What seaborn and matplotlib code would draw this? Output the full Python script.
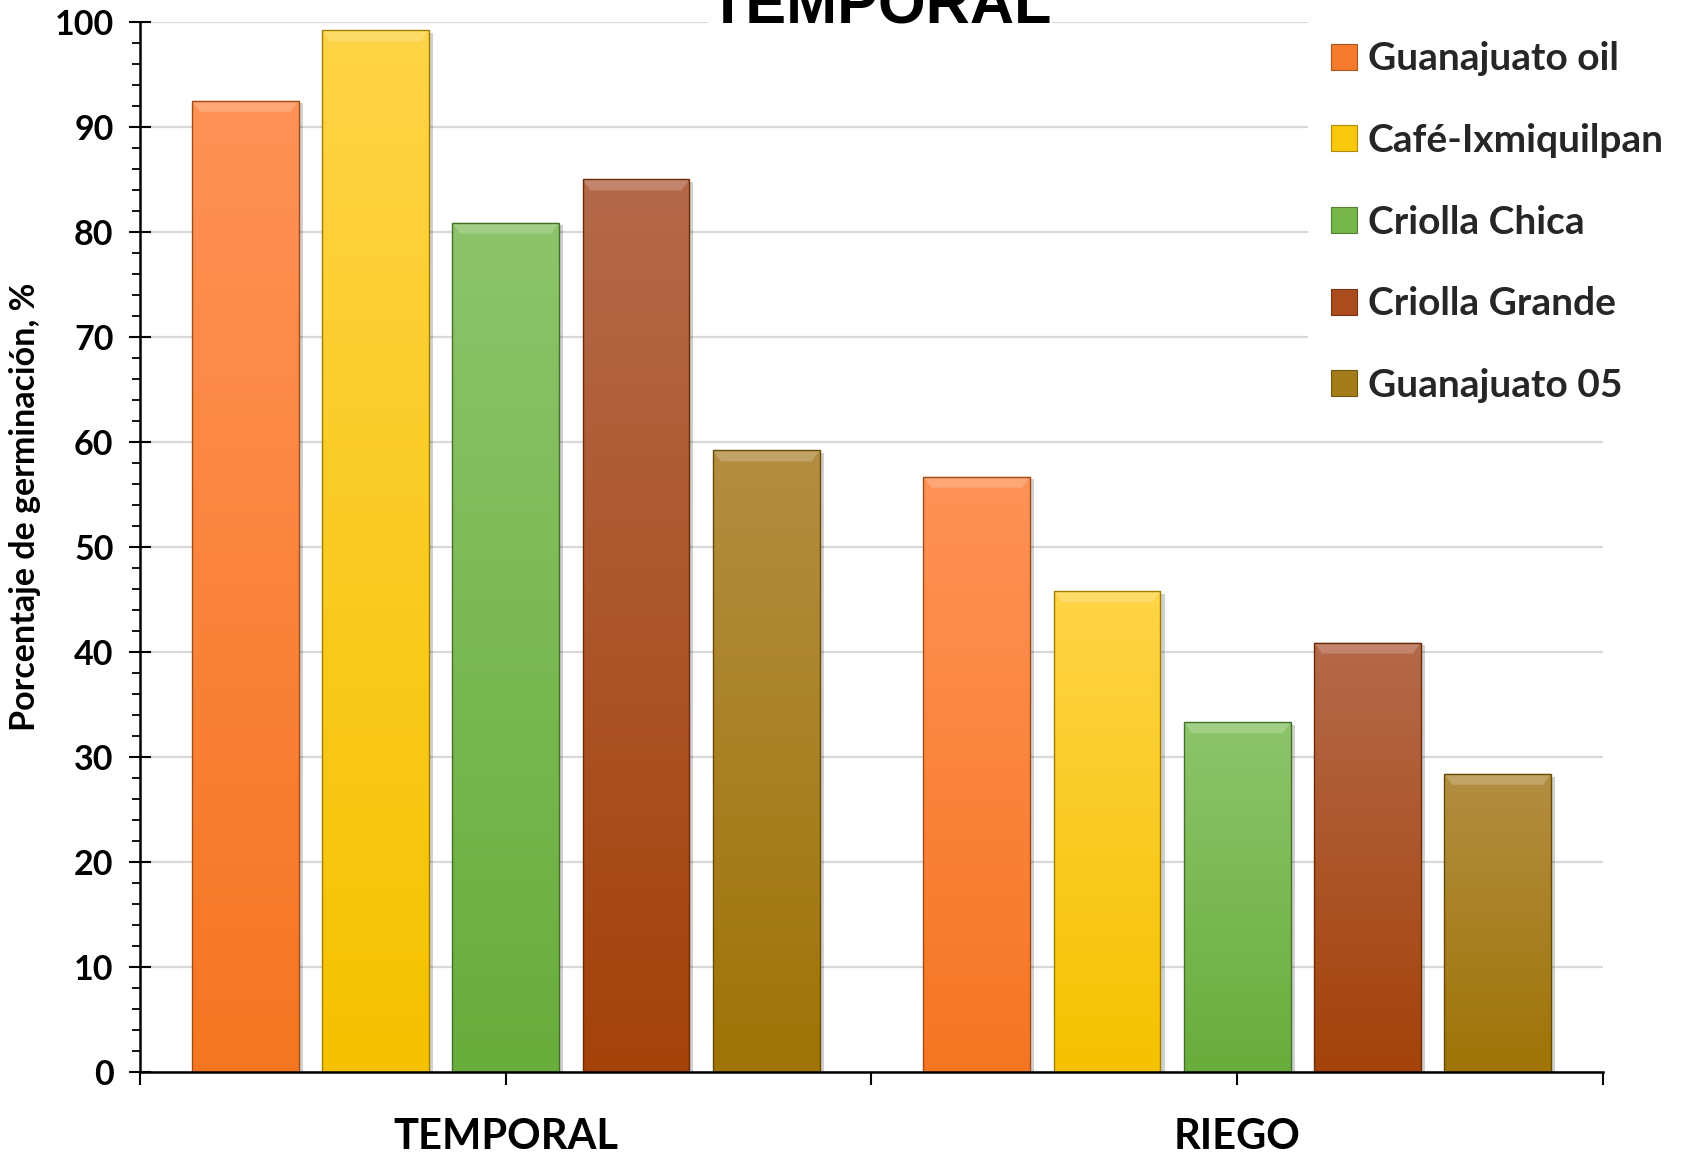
import numpy as np
import pandas as pd
import matplotlib
matplotlib.use("Agg")
import matplotlib.pyplot as plt
import seaborn as sns
from matplotlib.patches import Patch, Polygon, Rectangle
from matplotlib.colors import LinearSegmentedColormap, to_rgb
from matplotlib.ticker import MultipleLocator
import matplotlib.transforms as mtransforms

# Germination percentage per seed variety under each growing condition
conditions = ["TEMPORAL", "RIEGO"]
varieties = ["Guanajuato oil", "Café-Ixmiquilpan", "Criolla Chica",
             "Criolla Grande", "Guanajuato 05"]
temporal = [92.5, 99.2, 80.9, 85.0, 59.2]
riego = [56.7, 45.8, 33.3, 40.9, 28.4]

# Vertical gradient end colours for each variety, plus a flat legend colour
top_colors = ["#FF9257", "#FFD446", "#8DC46B", "#B4694A", "#B38E42"]
bottom_colors = ["#F57622", "#F5C200", "#69AD3C", "#A4420A", "#9E7406"]
legend_colors = ["#F47B2C", "#F9C80E", "#76B649", "#AA4C1E", "#A57C1A"]

df = pd.DataFrame({
    "Condición": np.repeat(conditions, len(varieties)),
    "Variedad": varieties * len(conditions),
    "Germinación": temporal + riego,
})

sns.set_theme(style="white")
plt.rcParams["font.family"] = ["Lato", "DejaVu Sans"]

fig = plt.figure(figsize=(16.86, 11.56), dpi=100)
ax = fig.add_axes([0.0830, 0.0727, 0.8678, 0.9083])

sns.barplot(data=df, x="Condición", y="Germinación", hue="Variedad",
            order=conditions, hue_order=varieties, palette=legend_colors,
            width=0.89, gap=0.18, saturation=1, errorbar=None,
            legend=False, ax=ax)


def mix(c, other, t):
    a = np.array(to_rgb(c))
    b = np.array(to_rgb(other))
    return tuple(a * (1 - t) + b * t)


# Give each bar a glossy vertical gradient, bevelled top and soft shadow
grad = np.linspace(0, 1, 256).reshape(-1, 1)
shadow_tf = mtransforms.offset_copy(ax.transData, fig=fig, x=3, y=-2, units="points")
for i, cont in enumerate(ax.containers):
    cmap = LinearSegmentedColormap.from_list(
        f"v{i}", [bottom_colors[i], top_colors[i]])
    edge = mix(bottom_colors[i], "black", 0.35)
    for bar in cont:
        x0, w, h = bar.get_x(), bar.get_width(), bar.get_height()
        ax.add_patch(Rectangle((x0, 0), w, h, transform=shadow_tf,
                               facecolor="black", alpha=0.18,
                               edgecolor="none", zorder=1.5))
        im = ax.imshow(grad, extent=[x0, x0 + w, 0, h], origin="lower",
                       aspect="auto", cmap=cmap, zorder=2.5,
                       interpolation="bilinear")
        im.set_clip_path(bar)
        bar.set_facecolor("none")
        bar.set_edgecolor(edge)
        bar.set_linewidth(1.0)
        bar.set_zorder(3)
        dx, dy = w * 0.075, 1.05
        ax.add_patch(Polygon([(x0, h), (x0 + w, h), (x0 + w - dx, h - dy),
                              (x0 + dx, h - dy)], closed=True,
                             facecolor=mix(top_colors[i], "white", 0.3),
                             edgecolor="none", alpha=0.65, zorder=2.8))

ax.set_xlim(-0.5, 1.5)
ax.set_ylim(0, 100)

# Axes, ticks and grid
for s in ["top", "right"]:
    ax.spines[s].set_visible(False)
for s in ["left", "bottom"]:
    ax.spines[s].set_color("black")
    ax.spines[s].set_linewidth(1.8)
    ax.spines[s].set_zorder(4)

ax.yaxis.set_major_locator(MultipleLocator(10))
ax.yaxis.set_minor_locator(MultipleLocator(2))
ax.tick_params(axis="y", which="major", direction="inout", length=16,
               width=1.5, color="black", labelsize=24.5, pad=11, left=True)
ax.tick_params(axis="y", which="minor", direction="out", length=5.5,
               width=1.3, color="black", left=True)
ax.set_xticks([-0.5, 0, 0.5, 1, 1.5])
ax.set_xticklabels(["", "TEMPORAL", "", "RIEGO", ""])
ax.tick_params(axis="x", which="major", direction="out", length=9.5,
               width=1.5, color="black", labelsize=30, pad=24, bottom=True)
for lab in ax.get_yticklabels() + ax.get_xticklabels():
    lab.set_fontweight("bold")
    lab.set_color("black")

ax.yaxis.grid(True, color="#D9D9D9", linewidth=1.6)
ax.set_axisbelow(True)
ax.set_xlabel("")
ax.set_ylabel("")

fig.text(25 / 1686, 1 - 507 / 1156, "Porcentaje de germinación, %",
         rotation=90, ha="center", va="center", fontsize=24.5,
         fontweight="bold", color="black")

# Title sits at the very top edge of the figure
fig.text(880 / 1686, 1 - 23 / 1156, "TEMPORAL", ha="center", va="baseline",
         fontsize=44, fontweight="bold", family=["Liberation Sans"],
         color="black", zorder=5,
         bbox=dict(facecolor="white", edgecolor="none", pad=0))

handles = [Patch(facecolor=c, edgecolor=mix(c, "black", 0.3), linewidth=0.8)
           for c in legend_colors]
leg = fig.legend(handles, varieties, loc="upper left",
                 bbox_to_anchor=(1308 / 1686, 1 - 18 / 1156),
                 prop={"family": ["Lato", "DejaVu Sans"], "weight": "bold",
                       "size": 28},
                 frameon=True, facecolor="white", edgecolor="none",
                 framealpha=1, fancybox=False, handlelength=0.66,
                 handleheight=0.66, handletextpad=0.28, labelspacing=1.2,
                 borderpad=0.6, borderaxespad=0)

fig.savefig("out.png", dpi=100)
